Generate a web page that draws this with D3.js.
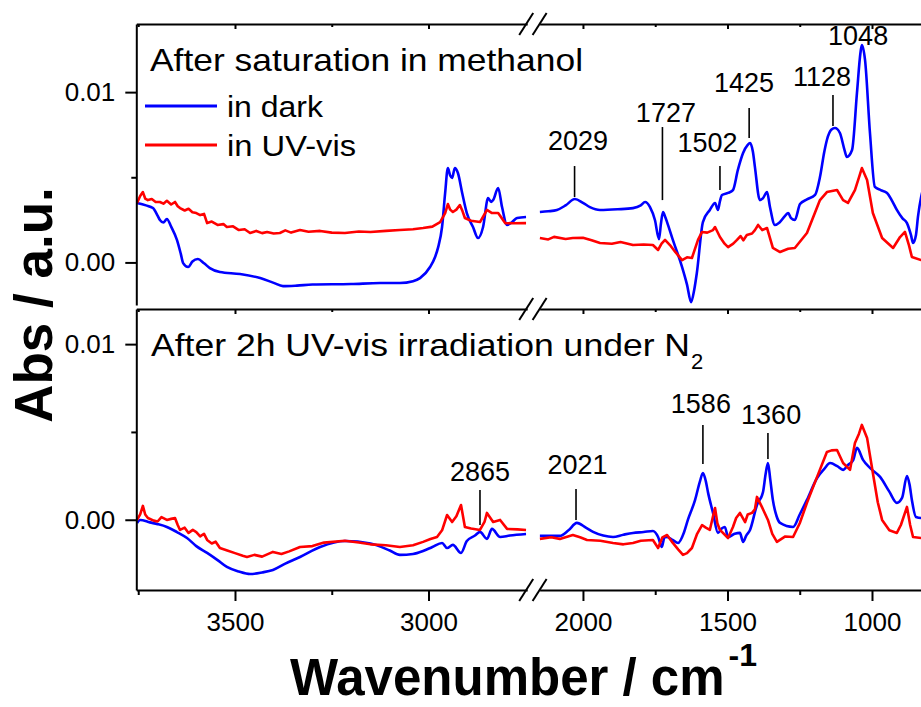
<!DOCTYPE html>
<html><head><meta charset="utf-8">
<script src="https://cdn.jsdelivr.net/npm/d3@7"></script>
<style>
body{margin:0;background:#fff}
svg{display:block}
text{font-family:"Liberation Sans",Arial,sans-serif;fill:#000}
</style>
</head><body>
<svg id="chart" width="921" height="707"></svg>
<script>
// ---------- DATA (wavenumber cm^-1, absorbance in units of 1e-3) ----------
const ABS_UNIT = 1e-3;
const seriesNames = ["in dark", "in UV-vis"];
const seriesColors = ["#0000ff", "#ff0000"];
const panelTitles = ["After saturation in methanol", "After 2h UV-vis irradiation under N"];
const panelTitleSub = "2";
const xMajorLeft = [3500, 3000];
const xMajorRight = [2000, 1500, 1000];
const xMinorLeft = [3750, 3250];
const xMinorRight = [1750, 1250];
const yMajor = [0, 0.01];
const yMinor = [0.005];

const topDarkLeft = [[3753,3.49],[3730,3.35],[3712,3.19],[3700,2.75],[3694,2.49],[3685,2.35],[3676,2.55],[3665,2.1],[3650,1.32],[3640,0.5],[3634,-0.04],[3621,-0.27],[3610,0.05],[3596,0.20],[3580,-0.05],[3565,-0.33],[3539,-0.56],[3487,-0.68],[3435,-0.92],[3400,-1.2],[3376,-1.39],[3340,-1.36],[3300,-1.3],[3200,-1.27],[3125,-1.21],[3074,-1.21],[3040,-1.1],[3022,-0.92],[2996,-0.27],[2983,0.32],[2975,0.90],[2965,2.08],[2957,4.08],[2950,5.54],[2944,5.1],[2939,4.96],[2932,5.54],[2924,5.25],[2913,4.08],[2901,2.90],[2885,2.08],[2872,1.43],[2859,2.08],[2846,3.78],[2838,3.55],[2833,3.66],[2820,4.37],[2810,3.25],[2797,2.20],[2784,2.37],[2771,2.61],[2748,2.67]];
const topUVLeft = [[3753,3.49],[3745,3.9],[3738,4.13],[3732,3.75],[3725,3.66],[3715,3.72],[3705,3.55],[3694,3.55],[3685,3.45],[3676,3.62],[3665,3.4],[3655,3.55],[3648,3.3],[3642,3.19],[3630,3.05],[3620,3.15],[3610,2.95],[3600,2.9],[3590,2.78],[3580,2.85],[3572,2.31],[3560,2.4],[3545,2.2],[3530,2.25],[3521,2.08],[3505,2.12],[3490,1.9],[3475,1.95],[3461,1.73],[3445,1.85],[3430,1.72],[3417,1.79],[3400,1.7],[3384,1.73],[3370,1.88],[3355,1.75],[3332,1.90],[3310,1.8],[3280,1.85],[3250,1.75],[3216,1.73],[3180,1.82],[3150,1.79],[3110,1.85],[3074,1.90],[3040,1.95],[3014,2.02],[2990,2.1],[2970,2.37],[2957,2.90],[2950,3.43],[2944,3.1],[2937,2.96],[2928,3.1],[2919,3.37],[2912,3.0],[2906,2.61],[2890,2.45],[2867,2.37],[2856,2.8],[2849,3.08],[2836,2.90],[2820,2.90],[2802,2.31],[2780,2.3],[2748,2.31]];
const topDarkRight = [[2149,2.96],[2120,3.0],[2090,3.08],[2060,3.35],[2028,3.72],[2000,3.5],[1976,3.25],[1941,3.08],[1880,3.12],[1827,3.19],[1800,3.35],[1785,3.55],[1768,3.25],[1751,2.49],[1737,1.37],[1730,2.3],[1723,2.96],[1716,2.7],[1709,2.37],[1689,1.32],[1657,-0.27],[1640,-1.3],[1626,-2.33],[1615,-1.6],[1606,-0.62],[1585,2.37],[1561,3.08],[1543,3.49],[1533,3.08],[1526,3.6],[1519,3.96],[1498,4.08],[1481,4.25],[1464,5.43],[1446,6.42],[1430,6.9],[1422,7.01],[1412,6.5],[1405,5.60],[1388,3.66],[1377,3.78],[1363,4.13],[1353,3.25],[1336,2.20],[1320,2.35],[1300,2.75],[1290,2.9],[1280,2.6],[1267,2.49],[1249,3.43],[1225,3.7],[1197,3.96],[1180,5.01],[1165,6.5],[1156,7.19],[1140,7.8],[1128,7.89],[1111,7.60],[1095,6.6],[1087,6.19],[1069,6.60],[1052,9.95],[1040,12.3],[1035,12.77],[1024,11.88],[1007,7.60],[990,4.43],[970,4.25],[948,4.08],[930,3.6],[914,3.08],[895,2.6],[879,2.31],[865,1.6],[858,1.14],[848,1.6],[841,2.67],[830,3.84],[820,4.5]];
const topUVRight = [[2149,1.43],[2120,1.35],[2100,1.5],[2060,1.38],[2035,1.43],[2000,1.45],[1970,1.3],[1941,1.14],[1900,1.1],[1870,1.2],[1827,1.02],[1790,1.05],[1758,1.02],[1740,0.73],[1728,1.1],[1716,1.32],[1699,1.02],[1680,0.6],[1657,0.14],[1640,0.3],[1623,0.26],[1602,1.32],[1588,1.79],[1570,1.75],[1550,1.90],[1543,2.08],[1526,1.49],[1510,1.1],[1498,0.90],[1480,1.1],[1467,1.32],[1455,1.55],[1445,1.3],[1433,1.61],[1415,1.7],[1405,1.9],[1394,2.20],[1380,1.9],[1363,2.02],[1343,0.85],[1318,0.61],[1290,0.8],[1267,0.85],[1225,1.73],[1180,3.66],[1156,4.13],[1121,4.25],[1100,3.66],[1083,3.49],[1059,4.25],[1045,5.0],[1035,5.54],[1017,4.84],[997,2.90],[965,1.43],[927,0.85],[903,1.49],[886,1.79],[872,1.0],[862,0.32],[830,0.14],[815,0.2]];
const botDarkLeft = [[3753,-0.18],[3745,-0.01],[3720,-0.15],[3700,-0.25],[3676,-0.41],[3650,-0.7],[3624,-1.04],[3600,-1.5],[3572,-1.89],[3545,-2.3],[3521,-2.69],[3490,-2.95],[3461,-3.09],[3430,-3.0],[3402,-2.86],[3370,-2.5],[3332,-2.12],[3280,-1.55],[3216,-1.21],[3150,-1.35],[3100,-1.75],[3074,-2.0],[3040,-1.95],[3014,-1.78],[2990,-1.55],[2965,-1.32],[2952,-1.61],[2937,-1.43],[2916,-1.89],[2901,-1.21],[2880,-0.9],[2867,-0.69],[2849,-1.09],[2836,-0.52],[2815,-0.98],[2790,-0.9],[2748,-0.81]];
const botUVLeft = [[3753,-0.01],[3745,0.3],[3738,0.79],[3732,0.3],[3725,0.10],[3710,-0.05],[3700,-0.1],[3690,0.15],[3676,-0.01],[3665,0.05],[3655,0.10],[3648,-0.3],[3642,-0.58],[3630,-0.45],[3620,-0.75],[3609,-0.58],[3600,-0.7],[3590,-0.95],[3580,-0.8],[3572,-1.15],[3560,-1.35],[3550,-1.25],[3539,-1.61],[3520,-1.75],[3500,-1.9],[3480,-2.05],[3469,-2.12],[3450,-2.0],[3430,-2.1],[3402,-1.83],[3380,-1.95],[3360,-1.8],[3332,-1.55],[3300,-1.5],[3270,-1.3],[3216,-1.2],[3180,-1.3],[3150,-1.4],[3110,-1.45],[3074,-1.55],[3040,-1.45],[3014,-1.26],[2995,-1.1],[2978,-0.98],[2965,-0.6],[2952,0.27],[2939,-0.13],[2928,0.2],[2916,0.84],[2906,-0.41],[2890,-0.5],[2867,-0.58],[2855,-0.1],[2849,0.39],[2833,-0.13],[2815,-0.01],[2797,-0.52],[2770,-0.55],[2748,-0.58]];
const botDarkRight = [[2149,-0.92],[2080,-0.92],[2050,-0.6],[2021,-0.18],[1990,-0.45],[1965,-0.69],[1930,-0.9],[1896,-0.98],[1860,-0.85],[1827,-0.75],[1790,-0.7],[1758,-0.64],[1740,-0.98],[1727,-1.55],[1718,-1.0],[1709,-0.98],[1690,-1.15],[1671,-1.32],[1650,-0.7],[1637,-0.01],[1612,1.13],[1595,2.2],[1585,2.66],[1575,2.2],[1567,1.53],[1550,0.39],[1533,-0.75],[1520,-0.5],[1509,-0.41],[1498,-0.98],[1475,-0.8],[1457,-0.75],[1446,-1.26],[1435,-0.9],[1422,-0.58],[1398,0.84],[1377,1.58],[1368,2.6],[1360,3.23],[1352,2.3],[1343,1.13],[1330,0.2],[1318,-0.18],[1273,-0.41],[1250,0.3],[1225,1.13],[1190,2.38],[1165,2.9],[1145,3.23],[1120,3.05],[1100,2.84],[1083,3.12],[1065,3.4],[1052,4.09],[1031,3.41],[1007,2.95],[972,2.44],[940,1.6],[914,0.96],[896,1.24],[879,2.49],[870,2.0],[862,1.13],[848,0.16],[830,0.10],[815,0.1]];
const botUVRight = [[2149,-1.09],[2110,-1.0],[2080,-1.09],[2035,-0.87],[2010,-1.0],[1986,-1.15],[1940,-1.2],[1896,-1.32],[1860,-1.4],[1827,-1.32],[1800,-1.2],[1758,-1.15],[1740,-1.61],[1725,-1.0],[1709,-0.87],[1689,-1.32],[1670,-1.7],[1654,-2.0],[1640,-1.9],[1623,-1.61],[1605,-0.8],[1588,-0.30],[1575,-0.45],[1561,-0.58],[1550,0.2],[1543,0.67],[1535,-0.2],[1526,-0.58],[1498,-1.04],[1481,-0.41],[1470,0.1],[1457,0.39],[1439,-0.13],[1430,0.3],[1415,0.39],[1405,0.6],[1398,1.30],[1381,0.73],[1360,-0.01],[1345,-0.8],[1329,-1.26],[1300,-0.95],[1273,-0.98],[1250,-0.2],[1225,0.96],[1190,2.44],[1156,3.86],[1140,3.95],[1121,3.97],[1100,3.23],[1076,2.84],[1059,4.37],[1045,4.9],[1035,5.40],[1017,4.66],[997,2.66],[980,1.0],[965,-0.01],[940,-0.6],[914,-0.75],[900,-0.3],[879,0.73],[868,-0.3],[858,-0.98],[830,-1.04],[815,-1.0]];

// peak annotations: line wavenumber, line from/to (abs*1e-3), label wavenumber & baseline (abs*1e-3)
const topAnnotations = [
  {label:"2029", wn:2029, y0:3.84, y1:5.66, lwn:2017, ly:6.60},
  {label:"1727", wn:1725, y0:3.66, y1:7.95, lwn:1713, ly:8.24},
  {label:"1502", wn:1526, y0:4.25, y1:5.66, lwn:1569, ly:6.48},
  {label:"1425", wn:1425, y0:7.30, y1:9.07, lwn:1443, ly:10.0},
  {label:"1128", wn:1135, y0:8.01, y1:9.83, lwn:1173, ly:10.36},
  {label:"1048", wn:null, y0:null, y1:null, lwn:1048, ly:12.77}
];
const botAnnotations = [
  {label:"2865", wn:2867, y0:-0.30, y1:1.70, lwn:2867, ly:2.21},
  {label:"2021", wn:2024, y0:-0.01, y1:1.75, lwn:2019, ly:2.61},
  {label:"1586", wn:1585, y0:3.18, y1:5.40, lwn:1592, ly:6.08},
  {label:"1360", wn:1360, y0:3.46, y1:4.94, lwn:1349, ly:5.45}
];

// ---------- SCALES ----------
const svg = d3.select("#chart");
const xL = d3.scaleLinear().domain([3755, 2745]).range([136.3, 527.2]);
const xR = d3.scaleLinear().domain([2150, 800]).range([539.6, 929.8]);
const yTop = d3.scaleLinear().domain([-0.0025, 0.014]).range([305, 24]);
const yBot = d3.scaleLinear().domain([-0.004, 0.012]).range([590, 309]);

const FONT = '"Liberation Sans", Arial, sans-serif';

function styleAxis(g){
  g.selectAll(".domain").attr("stroke","#000").attr("stroke-width",2);
  g.selectAll(".tick line").attr("stroke","#000").attr("stroke-width",2);
  g.selectAll(".tick text").attr("font-size",26).attr("font-family",FONT).attr("fill","#000");
}

// ---------- CURVES ----------
function drawCurve(data, xs, ys, color, smooth){
  const line = d3.line()
    .x(d => xs(d[0]))
    .y(d => ys(d[1]*ABS_UNIT))
    .curve(smooth ? d3.curveMonotoneX : d3.curveLinear);
  svg.append("path").datum(data)
    .attr("fill","none").attr("stroke",color).attr("stroke-width",2.6)
    .attr("stroke-linejoin","round").attr("d",line);
}
drawCurve(topDarkLeft, xL, yTop, seriesColors[0], true);
drawCurve(topDarkRight, xR, yTop, seriesColors[0], true);
drawCurve(topUVLeft, xL, yTop, seriesColors[1], false);
drawCurve(topUVRight, xR, yTop, seriesColors[1], false);
drawCurve(botDarkLeft, xL, yBot, seriesColors[0], true);
drawCurve(botDarkRight, xR, yBot, seriesColors[0], true);
drawCurve(botUVLeft, xL, yBot, seriesColors[1], false);
drawCurve(botUVRight, xR, yBot, seriesColors[1], false);

// ---------- AXES ----------
[yTop, yBot].forEach(ys=>{
  svg.append("g").attr("transform",`translate(${xL.range()[0]},0)`)
    .call(d3.axisLeft(ys).tickValues(yMajor).tickFormat(d3.format(".2f")).tickSize(11).tickSizeOuter(0).tickPadding(10))
    .call(styleAxis);
  svg.append("g").attr("transform",`translate(${xL.range()[0]},0)`)
    .call(d3.axisLeft(ys).tickValues(yMinor).tickFormat("").tickSize(5).tickSizeOuter(0))
    .call(g=>g.select(".domain").remove()).call(styleAxis);
});

function hAxis(y, orient){
  [[xL, xMajorLeft, xMinorLeft],[xR, xMajorRight, xMinorRight]].forEach(([xs, maj, mn])=>{
    const mk = orient==="bottom" ? d3.axisBottom : d3.axisTop;
    const big = orient==="bottom" ? 11 : -5;
    const small = orient==="bottom" ? 5 : -3;
    const g = svg.append("g").attr("transform",`translate(0,${y})`)
      .call(mk(xs).tickValues(maj).tickFormat(d3.format("d")).tickSize(big).tickSizeOuter(0).tickPadding(12))
      .call(styleAxis);
    if(orient!=="bottom") g.selectAll(".tick text").remove();
    svg.append("g").attr("transform",`translate(0,${y})`)
      .call(mk(xs).tickValues(mn).tickFormat("").tickSize(small).tickSizeOuter(0))
      .call(g=>g.select(".domain").remove()).call(styleAxis);
  });
  [xL.range()[1]-1, xR.range()[0]].forEach(cx=>{
    svg.append("line").attr("x1",cx-7).attr("y1",y+11).attr("x2",cx+7).attr("y2",y-11)
      .attr("stroke","#000").attr("stroke-width",2);
  });
}
hAxis(yTop.range()[1], "top");
hAxis(yBot.range()[1], "top");
hAxis(yBot.range()[0], "bottom");

// ---------- TEXT ----------
svg.append("text").attr("x",150).attr("y",71).attr("font-size",32)
  .attr("textLength",433).attr("lengthAdjust","spacingAndGlyphs").text(panelTitles[0]);
svg.append("text").attr("x",151).attr("y",356).attr("font-size",32)
  .attr("textLength",539).attr("lengthAdjust","spacingAndGlyphs").text(panelTitles[1]);
svg.append("text").attr("x",691).attr("y",369).attr("font-size",22).text(panelTitleSub);

const legY = [106, 145];
seriesNames.forEach((n,i)=>{
  svg.append("line").attr("x1",145).attr("x2",217).attr("y1",legY[i]).attr("y2",legY[i])
    .attr("stroke",seriesColors[i]).attr("stroke-width",3);
  svg.append("text").attr("x",227).attr("y",legY[i]+11).attr("font-size",29)
    .attr("textLength", i===0?96:129).attr("lengthAdjust","spacingAndGlyphs").text(n);
});

function annotate(list, ys){
  list.forEach(a=>{
    const xs = a.wn!==null && a.wn>2500 ? xL : xR;
    const lxs = a.lwn>2500 ? xL : xR;
    if(a.wn!==null){
      svg.append("line").attr("x1",xs(a.wn)).attr("x2",xs(a.wn))
        .attr("y1",ys(a.y0*ABS_UNIT)).attr("y2",ys(a.y1*ABS_UNIT))
        .attr("stroke","#000").attr("stroke-width",1.6);
    }
    svg.append("text").attr("x",lxs(a.lwn)).attr("y",ys(a.ly*ABS_UNIT))
      .attr("text-anchor","middle").attr("font-size",27).text(a.label);
  });
}
annotate(topAnnotations, yTop);
annotate(botAnnotations, yBot);

svg.append("text").attr("transform","translate(52,305) rotate(-90)")
  .attr("text-anchor","middle").attr("font-size",53).attr("font-weight","bold").text("Abs / a.u.");
const xt = svg.append("text").attr("x",290).attr("y",695).attr("font-size",51).attr("font-weight","bold");
xt.append("tspan").text("Wavenumber / cm");
xt.append("tspan").attr("dx",4).attr("dy",-29).attr("font-size",32).text("-1");
</script>
</body></html>
